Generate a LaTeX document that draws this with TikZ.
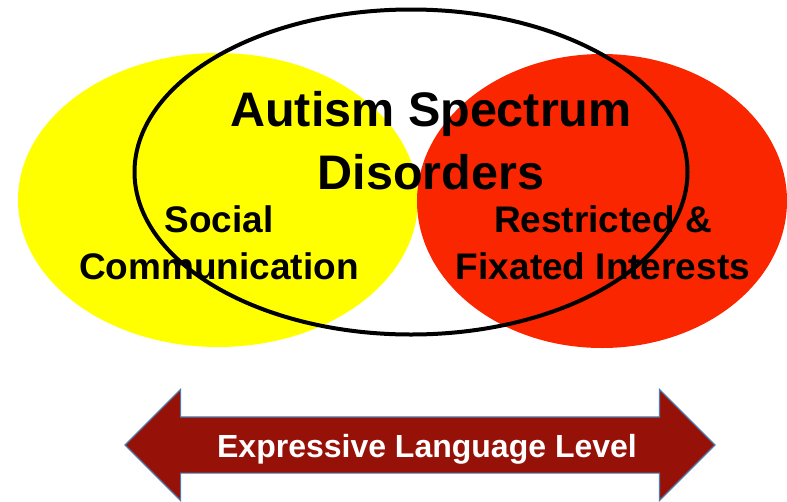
\documentclass[tikz,border=0pt]{standalone}
\usepackage{fontspec}
\setmainfont{Liberation Sans}
\usetikzlibrary{shapes.geometric,shapes.arrows}
\definecolor{asdyellow}{RGB}{255,255,0}
\definecolor{asdred}{RGB}{250,38,0}
\definecolor{asdmaroon}{RGB}{150,18,8}
\definecolor{asdsteel}{RGB}{80,125,175}

\begin{document}
\begin{tikzpicture}[x=1pt, y=-1pt]
    \tikzstyle{traitset} = [ellipse, inner sep=0pt, minimum height=294pt]
    \tikzstyle{traittext} = [align=center, font=\bfseries\fontsize{37}{47}\selectfont]
    \tikzstyle{heading} = [align=center, font=\bfseries\fontsize{48.5}{63}\selectfont]
    \tikzstyle{levelarrow} = [double arrow, double arrow head extend=27.5pt,
        minimum height=590pt, minimum width=110pt, inner ysep=9.5pt,
        text height=31pt, text depth=5pt, fill=asdmaroon, draw=asdsteel,
        line width=1.2pt]
    \tikzstyle{leveltext} = [text=white, font=\bfseries\fontsize{32}{38}\selectfont]

    \useasboundingbox (0,0) rectangle (787,501);

    % the two symptom domains
    \node [traitset, fill=asdyellow, minimum width=400pt] (social) at (218,200) {};
    \node [traitset, fill=asdred, minimum width=370pt] (restricted) at (602,201) {};
    \node [traittext] (socialtext) at (219,243) {Social\\Communication};
    \node [traittext] (restrictedtext) at (603,243) {Restricted \&\\Fixated Interests};

    % the spectrum round both
    \node [heading] (asd) at (431,141) {Autism Spectrum\\Disorders};
    \node [ellipse, draw, line width=4pt, inner sep=0pt, minimum width=553pt,
        minimum height=325pt] (spectrum) at (411,172) {};

    \node [levelarrow] (level) at (420,445) {};
    \node [leveltext] (leveltitle) at (427,449) {Expressive Language Level};
\end{tikzpicture}
\end{document}
